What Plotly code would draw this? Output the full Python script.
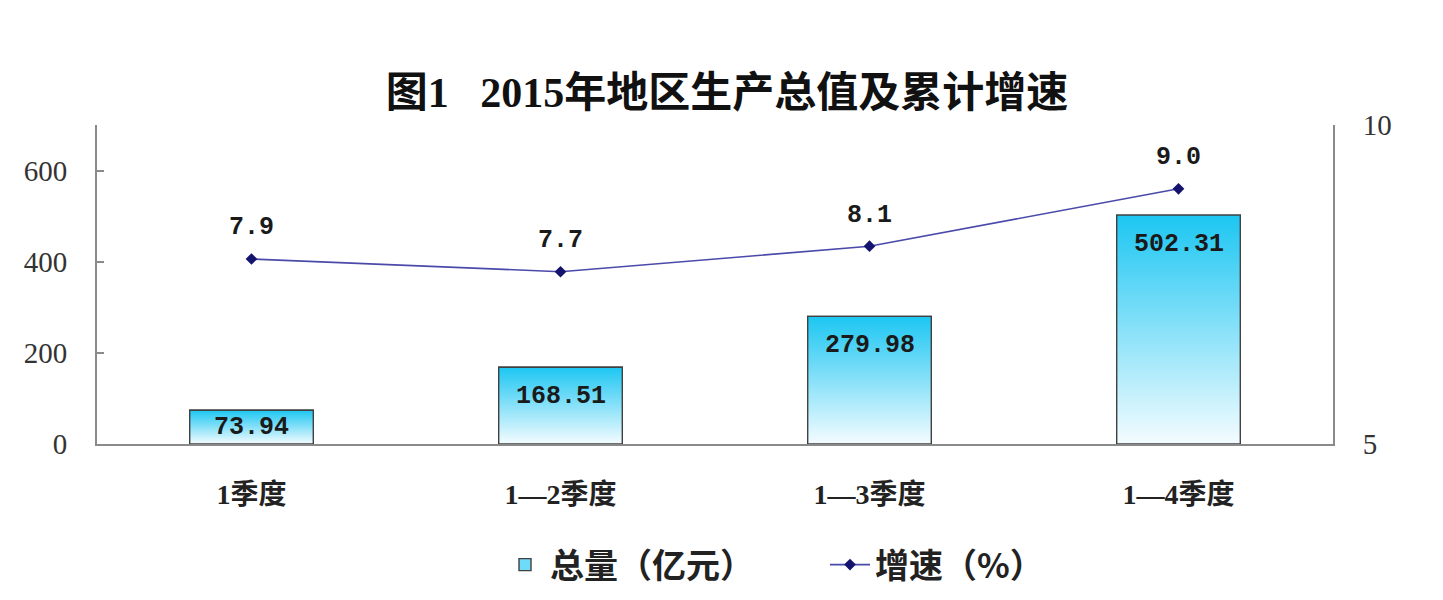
import plotly.graph_objects as go

# ---- data ----
categories = ["1季度", "1—2季度", "1—3季度", "1—4季度"]
gdp_total = [73.94, 168.51, 279.98, 502.31]      # 总量（亿元）
growth_rate = [7.9, 7.7, 8.1, 9.0]               # 增速（%）
y1_ticks = [0, 200, 400, 600]
y2_ticks = [5, 10]

# ---- style ----
SERIF = "Liberation Serif, Noto Sans CJK SC, serif"
MONO = "Liberation Mono, monospace"
CJK = "Noto Sans CJK SC, Liberation Serif, sans-serif"
BAR_TOP = "#1cc6f2"
BAR_BOTTOM = "#f4fcff"
EDGE = "#404040"
AXIS = "#8a8a8a"
LINE = "#4a4aaa"
MARKER = "#14146e"
BAR_W = 0.4
Y1_MAX = 700
PLOT_H = 319  # pixel height of plotting area (used for label offsets)
OFF = 8       # page body margin offset

xs = list(range(len(categories)))
fig = go.Figure()

# bar trace (legend + base)
fig.add_trace(go.Bar(
    x=xs, y=gdp_total, width=BAR_W, name="总量（亿元）",
    marker=dict(color="#6fdbf8", line=dict(color=EDGE, width=1.4)),
    hoverinfo="skip",
))

# gradient overlay for every bar, derived from the data
for x, v in zip(xs, gdp_total):
    fig.add_trace(go.Scatter(
        x=[x - BAR_W / 2, x + BAR_W / 2, x + BAR_W / 2, x - BAR_W / 2, x - BAR_W / 2],
        y=[0, 0, v, v, 0],
        mode="lines", fill="toself",
        line=dict(color=EDGE, width=1.4),
        fillgradient=dict(type="vertical", colorscale=[[0, BAR_BOTTOM], [1, BAR_TOP]], start=0, stop=v),
        showlegend=False, hoverinfo="skip",
    ))

# growth line
fig.add_trace(go.Scatter(
    x=xs, y=growth_rate, yaxis="y2", name="增速（%）",
    mode="lines+markers",
    line=dict(color=LINE, width=1.6),
    marker=dict(symbol="diamond", size=9, color=MARKER),
))

annotations = []
for x, v in zip(xs, gdp_total):
    h = v / Y1_MAX * PLOT_H
    annotations.append(dict(
        x=x, y=v, xref="x", yref="y", text=f"<b>{v:.2f}</b>", showarrow=False,
        yanchor="middle", yshift=-min(29, h / 2),
        font=dict(family=MONO, size=25, color="#1a1a1a"),
    ))
for x, v in zip(xs, growth_rate):
    annotations.append(dict(
        x=x, y=v, xref="x", yref="y2", text=f"<b>{v:.1f}</b>", showarrow=False,
        yanchor="middle", yshift=31,
        font=dict(family=MONO, size=25, color="#1a1a1a"),
    ))

fig.update_layout(
    width=1443, height=600,
    margin=dict(l=97 - OFF, r=110 + OFF, t=125 - OFF, b=156 + OFF),
    paper_bgcolor="white", plot_bgcolor="white",
    title=dict(
        text="<b>图1\u00a0\u00a0 2015年地区生产总值及累计增速</b>",
        x=(727 - OFF) / 1443, xref="container", xanchor="center",
        y=1 - (92 - OFF) / 600, yref="container", yanchor="middle",
        font=dict(family=SERIF, size=42, color="#111111"),
    ),
    xaxis=dict(
        range=[-0.5, len(categories) - 0.5],
        tickmode="array", tickvals=xs, ticktext=[f"<b>{c}</b>" for c in categories],
        showline=True, linecolor=AXIS, linewidth=2,
        showgrid=False, zeroline=False, ticks="",
        ticklabelstandoff=24,
        tickfont=dict(family=SERIF, size=28, color="#222222"),
    ),
    yaxis=dict(
        range=[0, Y1_MAX], tickmode="array", tickvals=y1_ticks,
        showline=True, linecolor=AXIS, linewidth=2,
        ticks="inside", ticklen=7, tickwidth=2, tickcolor=AXIS,
        showgrid=False, zeroline=False,
        ticklabelstandoff=22,
        tickfont=dict(family=SERIF, size=29, color="#333333"),
    ),
    yaxis2=dict(
        range=[5, 10], tickmode="array", tickvals=y2_ticks,
        overlaying="y", side="right",
        showline=True, linecolor=AXIS, linewidth=2,
        ticks="inside", ticklen=7, tickwidth=2, tickcolor=AXIS,
        showgrid=False, zeroline=False,
        ticklabelstandoff=22,
        tickfont=dict(family=SERIF, size=29, color="#333333"),
    ),
    legend=dict(
        orientation="h", x=(500 - 97) / 1236, xanchor="left", xref="paper",
        y=(444 - 565) / 319, yanchor="middle",
        font=dict(family=CJK, size=34, color="#222222", weight="bold"),
        itemwidth=40, entrywidth=270, traceorder="normal",
    ),
    annotations=annotations,
    showlegend=True,
)

fig.write_html("out.html")
